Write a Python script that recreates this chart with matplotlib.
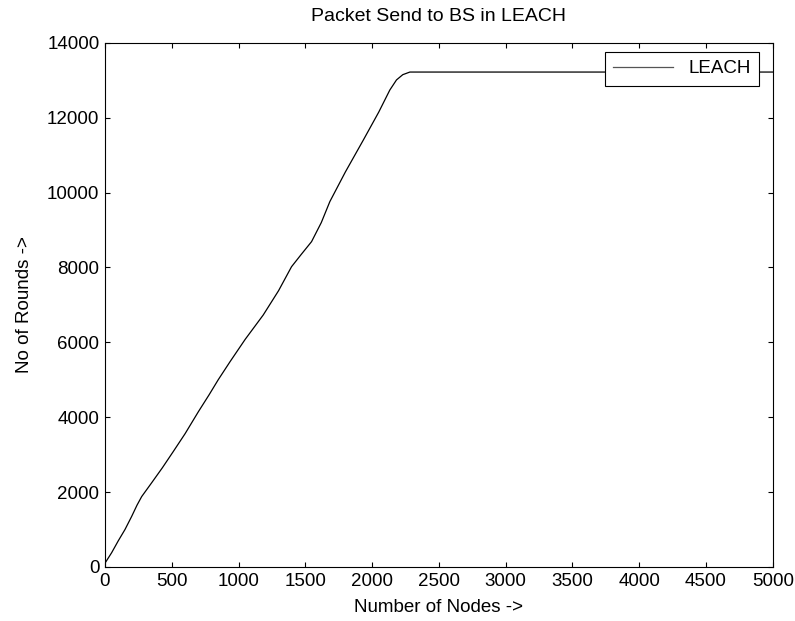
import matplotlib
matplotlib.use("Agg")
import matplotlib.pyplot as plt

# values
nodes = [0, 50, 100, 150, 200, 240, 275, 350, 430, 511, 600, 700, 780, 848,
         936, 1050, 1185, 1300, 1397, 1470, 1547, 1620, 1684, 1800, 1934,
         2050, 2133, 2183, 2230, 2283, 2300, 5000]
rounds = [100, 380, 700, 1000, 1350, 1650, 1880, 2250, 2650, 3080, 3560, 4150,
          4600, 5000, 5480, 6080, 6730, 7380, 8020, 8350, 8690, 9200, 9760,
          10550, 11400, 12150, 12740, 13010, 13150, 13220, 13220, 13220]

plt.rcParams['font.family'] = ['Liberation Sans', 'DejaVu Sans']
plt.rcParams['font.size'] = 13.5

fig = plt.figure(figsize=(7.95, 6.21), dpi=100)
ax = fig.add_axes([0.132, 0.087, 0.840, 0.844])

ax.plot(nodes, rounds, color='black', linewidth=0.9, label='LEACH')

ax.set_xlim(0, 5000)
ax.set_ylim(0, 14000)
ax.set_xticks(range(0, 5001, 500))
ax.set_yticks(range(0, 14001, 2000))
ax.tick_params(direction='in', top=True, right=True, length=3.6, width=0.8,
               labelsize=13.5, pad=4)
for s in ax.spines.values():
    s.set_linewidth(0.8)

ax.set_title('Packet Send to BS in LEACH', fontsize=14, pad=16)
ax.set_xlabel('Number of Nodes ->', fontsize=13.5, labelpad=7)
ax.set_ylabel('No of Rounds ->', fontsize=13.5, labelpad=10)

leg = ax.legend(loc='upper right', bbox_to_anchor=(0.985, 0.99), fancybox=False,
                edgecolor='black', framealpha=1, handlelength=3.2,
                borderaxespad=0.2, fontsize=13.5, borderpad=0.45)
leg.get_frame().set_linewidth(0.8)
leg.get_lines()[0].set_color('#555555')

fig.savefig('out.png', dpi=100)
